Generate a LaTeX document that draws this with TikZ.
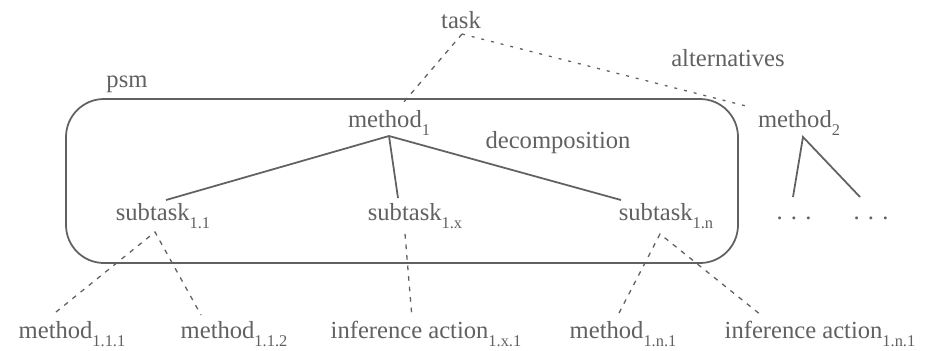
\documentclass[tikz,border=0pt]{standalone}
\usepackage{fontspec}
\setmainfont{Liberation Serif}
\definecolor{ink}{gray}{0.38}
\tikzset{
  lbl/.style={text=ink, font=\fontsize{21}{24}\selectfont, inner sep=0pt, anchor=base},
  tree/.style={draw=ink, line width=1.5pt},
  alt/.style={draw=ink, line width=1.1pt, dash pattern=on 4pt off 5pt},
  other/.style={draw=ink, line width=1.1pt, dash pattern=on 2.5pt off 6pt},
  psmbox/.style={draw=ink, line width=1.5pt, rounded corners=1.14cm}
}
\newcommand{\sub}[1]{\raisebox{-7pt}{\fontsize{14}{14}\selectfont #1}}
\begin{document}
\begin{tikzpicture}[x=0.03cm, y=-0.03cm]
\useasboundingbox (0,0) rectangle (929,350);
% labels
\node[lbl] (task) at (461,28) {task};
\node[lbl] (alts) at (728,66) {alternatives};
\node[lbl] (psm) at (127,87) {psm};
\node[lbl] (decomp) at (558,148) {decomposition};
% methods and subtasks
\node[lbl] (m1) at (389,127) {method\sub{1}};
\node[lbl] (m2) at (799,127) {method\sub{2}};
\node[lbl] (s11) at (163,220) {subtask\sub{1.1}};
\node[lbl] (s1x) at (415,220) {subtask\sub{1.x}};
\node[lbl] (s1n) at (666,220) {subtask\sub{1.n}};
\node[lbl] (dotsa) at (794,219) {.\,\,.\,\,.};
\node[lbl] (dotsb) at (871,219) {.\,\,.\,\,.};
\node[lbl] (m111) at (72,338) {method\sub{1.1.1}};
\node[lbl] (m112) at (234,338) {method\sub{1.1.2}};
\node[lbl] (ia1x1) at (426,338) {inference action\sub{1.x.1}};
\node[lbl] (m1n1) at (623,338) {method\sub{1.n.1}};
\node[lbl] (ia1n1) at (820,338) {inference action\sub{1.n.1}};
% psm boundary
\draw[psmbox] (66,99) rectangle (738,263);
% task level
\draw[alt] ([shift={(1,6)}]task.base) -- ([shift={(14,-24)}]m1.base);
\draw[other] ([shift={(1,6)}]task.base) -- ([shift={(-49,-20)}]m2.base);
% decomposition
\draw[tree] ([shift={(3,-20)}]s11.base) -- ([shift={(0,9)}]m1.base)
  -- ([shift={(-45,-20)}]s1n.base);
\draw[tree] ([shift={(0,9)}]m1.base) -- ([shift={(-17,-22)}]s1x.base);
\draw[tree] ([shift={(-1,-22)}]dotsa.base) -- ([shift={(4,10)}]m2.base)
  -- ([shift={(-11,-22)}]dotsb.base);
% subtask level
\draw[alt] ([shift={(-16,-26)}]m111.base) -- ([shift={(-8,12)}]s11.base)
  -- ([shift={(-33,-23)}]m112.base);
\draw[alt] ([shift={(-10,14)}]s1x.base) -- ([shift={(-14,-20)}]ia1x1.base);
\draw[alt] ([shift={(-4,-25)}]m1n1.base) -- ([shift={(-6,14)}]s1n.base)
  -- ([shift={(-59,-23)}]ia1n1.base);
\end{tikzpicture}
\end{document}
